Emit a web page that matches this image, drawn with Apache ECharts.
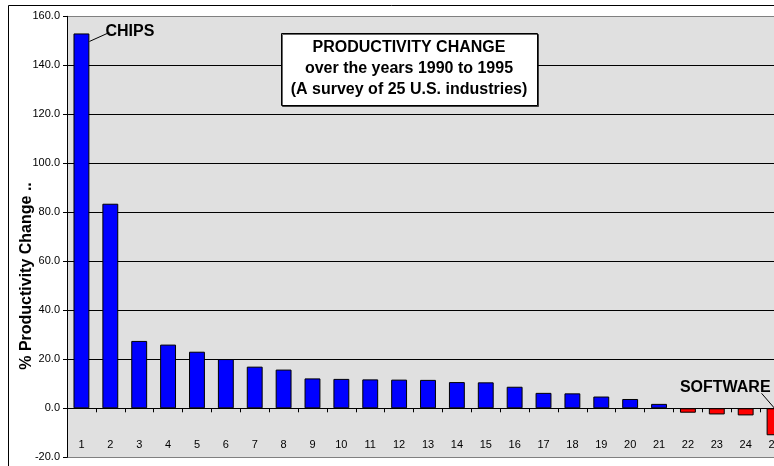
<!DOCTYPE html>
<html>
<head>
<meta charset="utf-8">
<script src="https://cdn.jsdelivr.net/npm/echarts@6/dist/echarts.min.js"></script>
<style>html,body{margin:0;padding:0;background:#fff;}#c{width:774px;height:466px;}</style>
</head>
<body>
<div id="c"></div>
<script>
var categories = ['1','2','3','4','5','6','7','8','9','10','11','12','13','14','15','16','17','18','19','20','21','22','23','24','25'];
var values = [153, 83.5, 27.5, 26, 23.1, 20.1, 17.0, 15.8, 12.2, 12.0, 11.8, 11.7, 11.6, 10.7, 10.6, 8.8, 6.3, 6.1, 4.8, 3.8, 1.8, -1.8, -2.5, -2.9, -11];
var yTicks = {min: -20, max: 160, interval: 20};
var titleLines = ['PRODUCTIVITY CHANGE', 'over the years 1990 to 1995', '(A survey of 25 U.S. industries)'];
var yAxisName = '% Productivity Change ..';
var callouts = [{index: 0, text: 'CHIPS'}, {index: 24, text: 'SOFTWARE'}];

var FONT = '"Liberation Sans", Arial, sans-serif';
var chart = echarts.init(document.getElementById('c'));
var splitColors = [];
for (var v = yTicks.min; v <= yTicks.max; v += yTicks.interval) {
  splitColors.push((v === yTicks.min || v === yTicks.max) ? '#808080' : '#000000');
}
var option = {
  animation: false,
  backgroundColor: '#ffffff',
  textStyle: {fontFamily: FONT},
  grid: {left: 67, right: -15, top: 16.3, bottom: 8.7, show: true, backgroundColor: '#e0e0e0', borderWidth: 0, containLabel: false, outerBoundsMode: 'none'},
  xAxis: [{
    type: 'category',
    data: categories,
    axisLine: {onZero: true, lineStyle: {color: '#000', width: 1}},
    axisTick: {show: true, alignWithLabel: false, length: 4, lineStyle: {color: '#000'}},
    axisLabel: {show: false}
  }, {
    type: 'category',
    data: categories,
    position: 'bottom',
    axisLine: {show: false, onZero: false},
    axisTick: {show: false},
    axisLabel: {show: true, margin: -18, verticalAlign: 'top', fontSize: 11, color: '#000', fontFamily: FONT, interval: 0}
  }],
  yAxis: {
    type: 'value',
    min: yTicks.min, max: yTicks.max, interval: yTicks.interval,
    axisLine: {show: true, lineStyle: {color: '#000'}},
    axisTick: {show: true, length: 4, lineStyle: {color: '#000'}},
    axisLabel: {margin: 7, fontSize: 11, color: '#000', fontFamily: FONT, formatter: function (v) { return v.toFixed(1); }},
    splitLine: {show: true, lineStyle: {color: splitColors, width: 1}}
  },
  series: [{
    type: 'bar',
    barWidth: '55%',
    data: values.map(function (v) {
      return {value: v, itemStyle: {color: v >= 0 ? '#0000ff' : '#ff0000', borderColor: '#000', borderWidth: 1}};
    })
  }]
};
chart.setOption(option);

var p0 = chart.convertToPixel({seriesIndex: 0}, [callouts[0].index, values[callouts[0].index]]);
var p1 = chart.convertToPixel({seriesIndex: 0}, [callouts[1].index, 0]);
var graphics = [
  {type: 'rect', shape: {x: 8.5, y: 5.5, width: 800, height: 500}, style: {fill: 'none', stroke: '#000', lineWidth: 1}, z: 100},
  {type: 'text', x: 27, y: 276, rotation: Math.PI / 2, style: {text: yAxisName, font: 'bold 16px ' + FONT, fill: '#000', align: 'center', verticalAlign: 'middle'}, z: 100},
  {type: 'line', shape: {x1: p0[0] + 8, y1: p0[1] + 8, x2: p0[0] + 28, y2: p0[1] - 1}, style: {stroke: '#000', lineWidth: 1}, z: 100},
  {type: 'text', x: p0[0] + 24, y: p0[1] - 2, style: {text: callouts[0].text, font: 'bold 16px ' + FONT, fill: '#000', align: 'left', verticalAlign: 'middle'}, z: 100},
  {type: 'line', shape: {x1: p1[0], y1: p1[1], x2: p1[0] - 13, y2: p1[1] - 15}, style: {stroke: '#000', lineWidth: 1}, z: 100},
  {type: 'text', x: p1[0] - 4, y: p1[1] - 21, style: {text: callouts[1].text, font: 'bold 16px ' + FONT, fill: '#000', align: 'right', verticalAlign: 'middle'}, z: 100},
  {type: 'rect', shape: {x: 281.5, y: 33.5, width: 256, height: 72}, style: {fill: '#fff', stroke: '#000', lineWidth: 1, shadowColor: 'rgba(0,0,0,0.6)', shadowOffsetX: 1, shadowOffsetY: 1}, z: 100}
];
titleLines.forEach(function (t, i) {
  graphics.push({type: 'text', x: 409, y: 48 + i * 21, style: {text: t, font: 'bold 16px ' + FONT, fill: '#000', align: 'center', verticalAlign: 'middle'}, z: 101});
});
chart.setOption({graphic: graphics});
</script>
</body>
</html>
